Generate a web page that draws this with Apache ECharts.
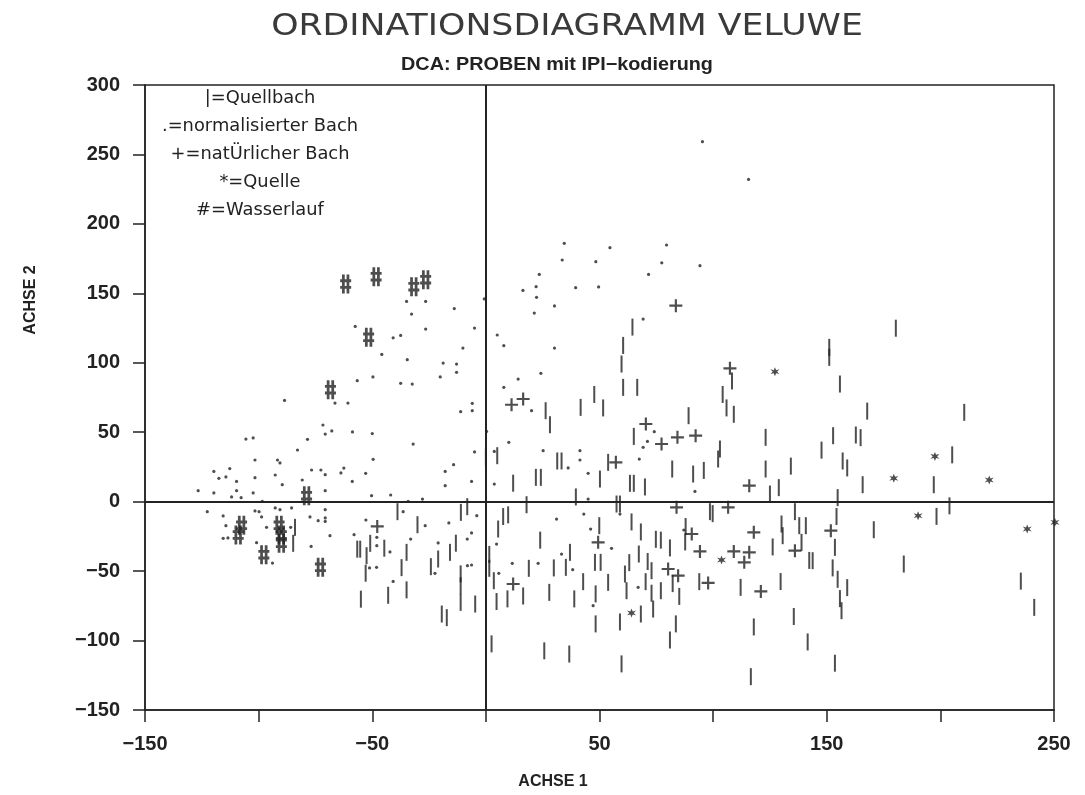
<!DOCTYPE html>
<html>
<head>
<meta charset="utf-8">
<script src="https://cdn.jsdelivr.net/npm/echarts@6/dist/echarts.min.js"></script>
<style>html,body{margin:0;padding:0;background:#fff}#c{width:1085px;height:795px}</style>
</head>
<body>
<div id="c"></div>
<script>
// ---- data ----
const xTicks = [-150, -50, 50, 150, 250];
const legendLines = ['|=Quellbach', '.=normalisierter Bach', '+=natÜrlicher Bach', '*=Quelle', '#=Wasserlauf'];

// | = Quellbach
const quellbach = [
[-38.9,-7.2],[-84,-18.5],[-84.8,-30],[-30.1,-16.6],[-34.9,-36.5],[-37.1,-47.5],[-56.6,-34.2],[-55.3,-34.2],[-52.5,-38.9],[-50.9,-30],
[-52.9,-51.5],[-44.7,-33.5],[-55,-70.2],[-43,-67.4],[-34.9,-63.5],[-24.2,-46.8],[-21,-41.3],[-15.8,-36.5],[-13.2,-29.9],[-11.1,-52],
[-11.1,-60.5],[-11.1,-72.5],[-11,-7.7],[-8.2,-3.6],[-4.7,-73.7],[-19.4,-80.9],[-17.2,-83.5],
[64.5,125.7],[60.4,112.5],[59.7,99.1],[60.4,82.3],[66.6,82.3],[47.7,77.2],[51.6,67.5],[41.7,67.9],[26.3,65.5],[28.2,55.4],[65.1,47],
[108.3,86.9],[104.2,77.2],[105.9,67.5],[109.1,62.9],[89.2,61.9],[103,37.9],[102.2,30.7],[123.1,46.3],[123.1,23.5],[31.4,29.3],[33.3,29.3],
[22,17.5],[24.2,17.5],[12,13.3],[50.2,16.3],[53.8,28.3],[82,23.5],[91.2,19.9],[95.9,22.5],[65.1,13.2],[63.4,13.2],[70,10.6],[39.6,3.4],
[17.9,-2.2],[57.5,-1.7],[59,-1.7],[125,5.5],[128.9,10.1],[5,33.1],[0,32],
[180.4,124.9],[151.1,111.1],[151.1,103.9],[155.8,84.7],[167.8,65.2],[210.5,64.3],[152.8,47.5],[162.8,48],[164.9,46.1],[147.7,37.1],
[157,29.3],[159,24.3],[134.2,25.6],[165.8,12.2],[205.2,33.7],[197.1,12.2],[154.8,2.9],
[7.6,-10.7],[9.8,-9.5],[5.4,-19.7],[1.5,-38],[1.5,-48],[3.5,-56.9],[4.7,-71.9],[9.5,-70],[16.4,-67.9],[18.9,-48],[23.9,-27.7],[27.9,-65.3],
[29.9,-47.7],[35.2,-47.3],[37,-36.5],[38.9,-70],[42.8,-57.6],[48,-43.7],[49.9,-17.3],[50.5,-43.7],[48.3,-66.4],[48.3,-88],[53.8,-58.1],
[59,-86.6],[59.7,-116.8],[61.2,-52.1],[61.9,-64.1],[63.1,-43.9],[64.1,-14.6],[68.2,-21.8],[67.3,-37.7],[68.2,-80.9],[70.3,-57.6],[71.2,-43.1],
[72.9,-49.7],[72.9,-65.9],[73.6,-77.3],[74.8,-27.1],[77,-27.7],[77,-64.1],[81,-33.3],[82.2,-59],[85.1,-68.2],[83.6,-88],[81,-99.6],
[87.9,-17.9],[87.7,-29],[93.9,-57.6],[98.6,-7.2],[99.8,-8.6],[112.1,-61.7],[117.9,-90.2],[116.6,-126],[126.2,-32.6],[2.5,-102.4],
[25.7,-107.4],[36.7,-109.7],
[130.1,-16.1],[130.6,-24.5],[136,-7.2],[137.9,-17.3],[140.8,-17.3],[138.9,-29.3],[142.3,-42.3],[143.8,-42.5],[129.7,-57.5],[135.5,-82.7],
[141.6,-101],[153.6,-116.3],[154.3,-10.7],[153.6,-32.9],[152.6,-47.7],[154.8,-55.9],[159,-61.9],[155.8,-69.8],[156.5,-78.5],[170.7,-20.2],
[183.9,-44.9],[198.3,-10.6],[204,-3],[235.4,-57.2],[241.3,-76.1]
];

// . = normalisierter Bach
const normalisiert = [
[-34.9,144.2],[-26.5,144.2],[-13.9,139],[-0.7,146],[-32.7,135.1],[-57.5,126.2],[-26.5,124.3],[-5,125],[-40.8,118],[-37.5,119.7],
[-10.1,110.6],[-45.8,106],[-34.6,102.2],[-18.8,99.8],[-12.9,99.1],[-12.9,93.1],[-20.1,89.8],[-49.7,89.8],[-56.6,87.1],[-37.5,85.2],
[-32.4,84.7],[-88.6,72.9],[-66.4,71],[-60.7,71],[-6,70.8],[-11.1,64.8],[-6,65.5],[-71.7,55.2],[-70.7,48.7],[-67.8,50.9],[-58.7,50.2],
[-50,49],[-105.6,45.1],[-102.4,45.9],[-78.5,44.9],
[-32,41.5],[-82.9,37.2],[-5,35.8],[-101.6,30],[-91.7,30],[-90.6,27.9],[-49.6,30.5],[-14.2,26.6],[-112.7,23.8],[-119.7,21.8],[-76.7,22.8],
[-72.6,22.8],[-62.5,24.2],[-63.8,20.7],[-52.9,20.4],[-17.9,21.8],[-117.5,16.8],[-114.4,17.8],[-101.6,17.3],[-92.7,19.2],[-109.7,14.6],
[-80.8,15.6],[-70.7,19.4],[-58.8,14.6],[-6.3,14.6],[-89.6,12.2],[-17.9,11.5],[-126.6,7.9],[-119.7,6.3],[-109.7,7.9],[-102.4,6.3],
[-70.7,7.9],[-111.9,3.4],[-107.7,2.9],[-50.3,4.3],[-41.9,4.8],[-27.9,1.9],[-98.4,0.2],[-34.2,0.2],
[-122.6,-7.2],[-115.6,-10.3],[-101.6,-6.7],[-99.8,-7.2],[-98.7,-11],[-92.7,-4.5],[-90.6,-5.8],[-85.5,-4.5],[-114.4,-17.3],[-77.4,-11],
[-73.8,-13.7],[-70.7,-5.8],[-70.7,-11.7],[-70.7,-14.2],[-96.5,-18.5],[-85.9,-18.5],[-115.6,-26.4],[-113.5,-26.1],[-100.9,-29.5],
[-93.9,-44.2],[-76.9,-32.2],[-68.6,-24.5],[-58,-23.8],[-52.8,-13.2],[-36.4,-7.2],[-33.1,-26.9],[-26.7,-17.3],[-16.3,-15.3],[-6.3,-22.5],
[-8.2,-26.9],[-4,-10.1],[-21,-29.7],[-48,-25.7],[-48,-31.7],[-51.2,-47.7],[-48.1,-47.3],[-42.2,-36.2],[-40.8,-57.4],[-22.4,-51.6],
[-8.1,-46.1],[-6.3,-45.6],
[95.3,259.2],[115.6,232],[34.5,186],[54.6,182.9],[79.5,184.8],[33.6,174],[48.4,172.8],[77.4,172],[94.2,169.9],[23.5,163.6],[71.6,163.6],
[16.3,152.1],[22.1,154.8],[39.5,154.1],[49.6,154.6],[22.3,147.1],[30.2,140.9],[21.3,135.8],
[5,120],[7.9,112.3],[30.2,110.6],[69.2,131.5],[24.2,92.4],[14.2,88.3],[7.9,82.3],[20.1,65.5],[0.3,50.6],[10.1,42.7],[25.2,36.7],
[41.4,36.7],[41.4,30],[36.2,24.3],[3.7,12.7],[45,20.4],[67.5,30.7],[69.2,39.1],[71.1,43.4],[74.1,50.4],[92,7.4],[45,1.9],[3.7,36.2],
[4.7,-30.5],[5.7,-51.6],[11.6,-44.4],[23,-44.4],[31.1,-12.5],[43.1,-8.9],[46.1,-19.7],[33.3,-37.7],[38.2,-49],[55.3,-33.6],[47.2,-74.9],
[67,-61.7],[59,-8.9],[87.1,-20.4]
];

// + = natuerlicher Bach
const natuerlich = [
[-47.8,-17.8],[83.6,141.1],[11.3,69.8],[16.4,73.9],[70.4,55.9],[77.3,41.5],[84.3,46.3],[92.3,47.5],[107.4,96],[115.9,11.5],[57.2,28.3],
[83.9,-4.1],[106.6,-4.1],[117.9,-22.1],[49.4,-29.3],[90.6,-23.3],[94.2,-35.8],[109.1,-35.8],[115.9,-36.5],[113.7,-43.7],[80.2,-48.5],
[84.6,-53.3],[97.8,-58.5],[121,-64.6],[12,-59.3],[151.8,-20.9],[136,-35.3]
];

// * = Quelle
const quelle = [
[127.2,93.6],[197.6,32.6],[179.5,16.8],[221.5,15.6],[103.7,-42],[64.1,-80.1],[190.2,-10.1],[238.2,-19.7],[250.4,-14.9]
];

// # = Wasserlauf
const wasserlauf = [
[-61.7,156.7],[-48.3,162],[-31.7,154.8],[-26.5,159.8],[-51.6,118.3],[-68.4,80.6],[-78.9,4.3],[-107.5,-17],[-109,-24],
[-91,-17],[-90,-24],[-90,-30],[-97.7,-38.2],[-72.8,-47.3]
];

// ---- chart ----
const INK = '#222';
const FONT = '"Liberation Sans", Arial, sans-serif';
const chart = echarts.init(document.getElementById('c'), null, {renderer: 'canvas'});
const fmtMinus = v => String(v).replace('-', '\u2212');

const PLUS = 'path://M5,0H7V5H12V7H7V12H5V7H0V5H5Z';
const STAR = 'path://M5,0L6.2,3.3L9.5,2.3L7.2,5L9.5,7.7L6.2,6.7L5,10L3.8,6.7L0.5,7.7L2.8,5L0.5,2.3L3.8,3.3Z';
const HASH = 'path://M2,0H5V20H2Z M7,0H10V20H7Z M0,5H12V8H0Z M0,12H12V15H0Z';

const legendGraphics = legendLines.map((t, i) => ({
  type: 'text', x: 260, y: 99 + i * 27.8, scaleX: 1.05,
  style: {text: t, fill: INK, font: '17px "DejaVu Sans", sans-serif', textAlign: 'center', textVerticalAlign: 'middle'}
}));

chart.setOption({
  animation: false,
  backgroundColor: '#fff',
  grid: {left: 145, right: 31, top: 85, bottom: 85, show: true, borderColor: INK, borderWidth: 1.5, backgroundColor: 'transparent'},
  xAxis: {
    type: 'value', min: -150, max: 250, interval: 50,
    axisLine: {show: true, onZero: false, lineStyle: {color: INK, width: 1.5}},
    axisTick: {show: true, inside: false, length: 12, lineStyle: {color: INK, width: 1.5}},
    axisLabel: {
      margin: 24, color: INK, fontSize: 20, fontWeight: 'bold', fontFamily: FONT,
      formatter: v => (xTicks.indexOf(v) >= 0 ? fmtMinus(v) : '')
    },
    splitLine: {show: false}
  },
  yAxis: {
    type: 'value', min: -150, max: 300, interval: 50,
    axisLine: {show: true, onZero: false, lineStyle: {color: INK, width: 1.5}},
    axisTick: {show: true, inside: false, length: 12, lineStyle: {color: INK, width: 1.5}},
    axisLabel: {margin: 25, color: INK, fontSize: 20, fontWeight: 'bold', fontFamily: FONT, formatter: fmtMinus},
    splitLine: {show: false}
  },
  graphic: [
    {type: 'text', x: 567, y: 27, scaleX: 1.12, style: {text: 'ORDINATIONSDIAGRAMM VELUWE', fill: '#3a3a3a', font: '31px "DejaVu Sans", sans-serif', textAlign: 'center', textVerticalAlign: 'middle'}},
    {type: 'text', x: 557, y: 65, scaleX: 1.1, style: {text: 'DCA: PROBEN mit IPI\u2212kodierung', fill: INK, font: 'bold 18px ' + FONT, textAlign: 'center', textVerticalAlign: 'middle'}},
    {type: 'text', x: 553, y: 782, style: {text: 'ACHSE 1', fill: INK, font: 'bold 16px ' + FONT, textAlign: 'center', textVerticalAlign: 'middle'}},
    {type: 'text', x: 31, y: 300, rotation: Math.PI / 2, style: {text: 'ACHSE 2', fill: INK, font: 'bold 16px ' + FONT, textAlign: 'center', textVerticalAlign: 'middle'}}
  ].concat(legendGraphics),
  series: [
    {
      name: 'normalisierter Bach', type: 'scatter', data: normalisiert, symbol: 'circle', symbolSize: 3.2,
      itemStyle: {color: INK}, clip: false, silent: true,
      markLine: {
        silent: true, symbol: ['none', 'none'], label: {show: false},
        lineStyle: {color: INK, width: 2, type: 'solid'},
        data: [{xAxis: 0}, {yAxis: 0}]
      }
    },
    {name: 'Quellbach', type: 'scatter', data: quellbach, symbol: 'rect', symbolSize: [2, 17], itemStyle: {color: INK}, clip: false, silent: true},
    {name: 'natuerlicher Bach', type: 'scatter', data: natuerlich, symbol: PLUS, symbolSize: 13, itemStyle: {color: INK}, clip: false, silent: true},
    {name: 'Quelle', type: 'scatter', data: quelle, symbol: STAR, symbolSize: 9, itemStyle: {color: INK}, clip: false, silent: true},
    {name: 'Wasserlauf', type: 'scatter', data: wasserlauf, symbol: HASH, symbolSize: [11, 19], itemStyle: {color: INK}, clip: false, silent: true}
  ]
});
</script>
</body>
</html>
